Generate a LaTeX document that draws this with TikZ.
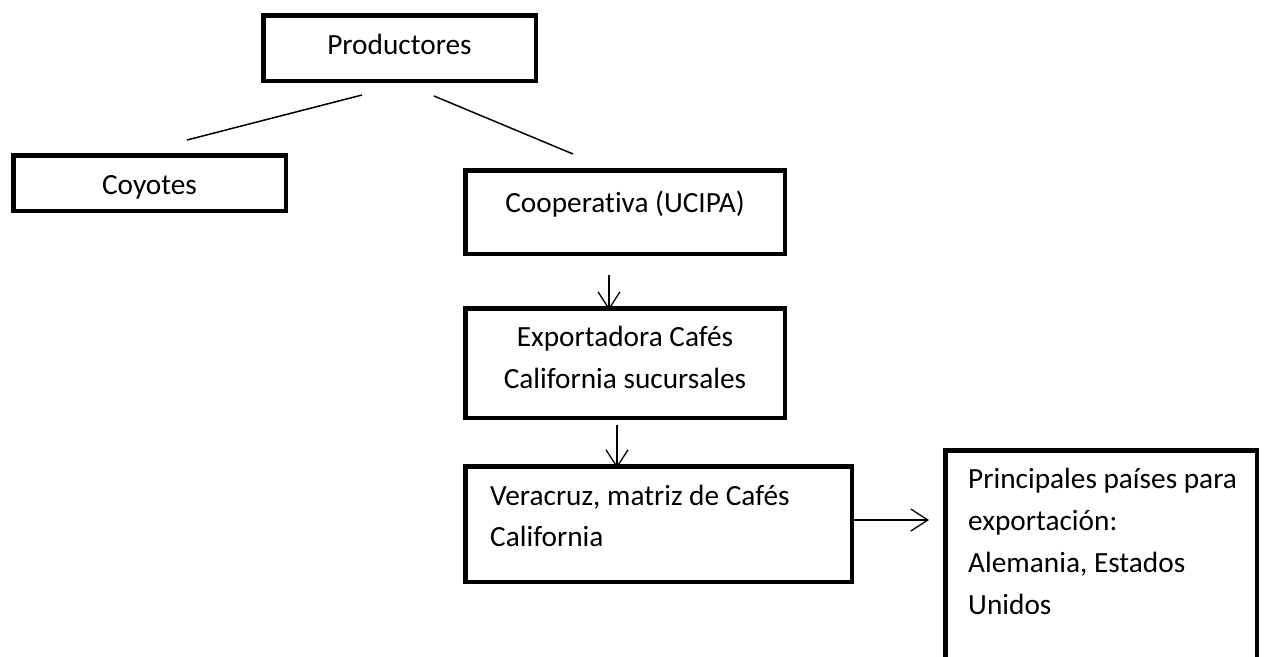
\documentclass[tikz,border=0pt]{standalone}
\usepackage{fontspec}
\setmainfont{Carlito}[Ligatures=NoCommon]
\usetikzlibrary{arrows.meta,calc}
\tikzset{
  box/.style={draw=black, line width=4.5pt, rectangle, inner sep=0pt, fill=none},
  txt/.style={inner sep=0pt, font=\fontsize{29.3}{42}\selectfont},
  link/.style={draw=black, line width=1.5pt},
  flow/.style={draw=black, line width=1.3pt, -{Straight Barb[length=17pt,width=22pt,line width=1.3pt]}}
}
\begin{document}
\begin{tikzpicture}[x=1pt,y=-1pt]
\useasboundingbox (0,0) rectangle (1265,656);
\fill[white] (0,0) rectangle (1265,656);
\clip (0,0) rectangle (1265,656);
% boxes
\node[box, minimum width=272.5pt, minimum height=65.5pt] (prod) at (399.5,48) {};
\node[box, minimum width=272.5pt, minimum height=55.5pt] (coy) at (149.5,183) {};
\node[box, minimum width=319.5pt, minimum height=83.5pt] (coop) at (625,212) {};
\node[box, minimum width=319.5pt, minimum height=109.5pt] (exp) at (625,363) {};
\node[box, minimum width=386.5pt, minimum height=115.5pt] (ver) at (658.5,524) {};
\node[box, minimum width=311.5pt, minimum height=247.5pt] (pri) at (1101,574) {};
% texts
\node[txt, anchor=base] (tprod) at (399.5,54) {Productores};
\node[txt, anchor=base] (tcoy) at (149.5,194) {Coyotes};
\node[txt, anchor=base] (tcoop) at (625,212) {Cooperativa (UCIPA)};
\node[txt, anchor=base] (texp1) at (625,346) {Exportadora Cafés};
\node[txt, anchor=base] (texp2) at (625,388) {California sucursales};
\node[txt, anchor=base west] (tver1) at (490,505) {Veracruz, matriz de Cafés};
\node[txt, anchor=base west] (tver2) at (490,546) {California};
\node[txt, anchor=base west] (tpri1) at (968,488) {Principales países para};
\node[txt, anchor=base west] (tpri2) at (968,530) {exportación:};
\node[txt, anchor=base west] (tpri3) at (968,572) {Alemania, Estados};
\node[txt, anchor=base west] (tpri4) at (968,614) {Unidos};
% connector ends
\coordinate (l1a) at (362,95);
\coordinate (l1b) at (187,140);
\coordinate (l2a) at (434,96);
\coordinate (l2b) at (573,154);
\coordinate (a1a) at ($(coop.south)+(-16,19)$);
\coordinate (a1b) at ($(exp.north)+(-16,4)$);
\coordinate (a2a) at ($(exp.south)+(-8,5)$);
\coordinate (a2b) at ($(ver.north)+(-41.5,4)$);
\coordinate (a3a) at ($(ver.east)+(0,-4)$);
\coordinate (a3b) at ($(pri.west)+(-14,-54)$);
% connectors
\draw[link] (l1a) -- (l1b);
\draw[link] (l2a) -- (l2b);
\draw[flow] (a1a) -- (a1b);
\draw[flow] (a2a) -- (a2b);
\draw[flow] (a3a) -- (a3b);
\end{tikzpicture}
\end{document}
